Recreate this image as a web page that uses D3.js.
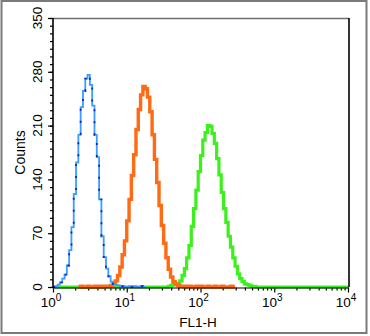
<!DOCTYPE html>
<html lang="en">
    <head>
        <meta charset="utf-8">
        <title>FL1-H histogram overlay</title>
        <script src="https://d3js.org/d3.v7.min.js"></script>
        <style>
            body {
                margin: 0;
                background-color: #ffffff;
            }
            svg {
                display: block;
                font-family: "Liberation Sans", Arial, sans-serif;
            }
        </style>
    </head>
    <body>
        <svg id="chart"></svg>
        <script>
            //histogram data: counts per channel, 32 channels per decade
            const binsPerDecade = 32;
            const totalBins = 128;

            const blueStart = 0;
            const blueCounts = [0, 1, 3, 6, 11, 16, 28, 48, 78, 121, 162, 198, 234, 255, 271, 276, 263, 236, 198, 169,
                114, 66, 39, 24, 14, 7, 4, 3, 2, 1, 1, 0, 0, 1, 0, 1, 0, 0, 1, 0];

            const orangeStart = 11;
            const orangeCounts = [0, 1, 0, 0, 1, 0, 0, 1, 0, 1, 0, 1, 1,
                1, 2, 4, 8, 15, 26, 42, 60, 86, 114, 145, 172, 205, 231, 250, 261, 258, 247, 228, 198, 166, 136,
                106, 80, 57, 38, 23, 13, 7, 4, 2, 1,
                1, 0, 1, 1, 0, 0, 1, 0, 1, 0, 0, 1, 0, 0, 1, 0, 0, 1, 0, 0, 0, 1, 0];

            const greenStart = 50;
            const greenCounts = [1, 2, 3, 3, 4, 8, 15, 24, 38, 54, 79, 102, 126, 150, 171, 191, 201, 210, 209, 200,
                187, 167, 146, 123, 102, 84, 66, 52, 38, 27, 17, 11, 7, 4, 3, 2, 1, 1];

            //axis ticks
            const xDecades = [1, 10, 100, 1000, 10000];
            const xExponents = ["0", "1", "2", "3", "4"];
            const yTicks = [0, 70, 140, 210, 280, 350];

            //dimensions
            const width = 370;
            const height = 336;
            const plot = { left: 53, right: 349, top: 18, bottom: 287 };

            const svg = d3.select("#chart")
                .attr("width", width)
                .attr("height", height);

            //outer frame
            svg.append("rect")
                .attr("x", 1.5)
                .attr("y", 1)
                .attr("width", 365)
                .attr("height", 332)
                .attr("fill", "#ffffff")
                .attr("stroke", "#7a7a7a")
                .attr("stroke-width", 2);

            //scales
            const xScale = d3.scaleLog()
                .domain([1, 10000])
                .range([plot.left, plot.right - 1]);

            const yScale = d3.scaleLinear()
                .domain([0, 350])
                .range([plot.bottom, plot.top]);

            //plot frame: top gray, right black
            svg.append("line")
                .attr("x1", plot.left).attr("x2", plot.right)
                .attr("y1", plot.top + 0.5).attr("y2", plot.top + 0.5)
                .attr("stroke", "#6e6e6e")
                .attr("stroke-width", 1.5);

            svg.append("line")
                .attr("x1", plot.right).attr("x2", plot.right)
                .attr("y1", plot.top).attr("y2", plot.bottom)
                .attr("stroke", "#000")
                .attr("stroke-width", 1.6);

            //x axis ticks
            const xMinor = [];
            for (let d = 1; d < 10000; d *= 10) {
                for (let m = 2; m < 10; m++) xMinor.push(d * m);
            }

            const xAxisG = svg.append("g")
                .attr("transform", `translate(0, ${plot.bottom + 0.5})`);

            xAxisG.call(d3.axisBottom(xScale).tickValues(xMinor).tickSize(3).tickFormat(""))
                .call(g => g.select(".domain").remove());
            xAxisG.append("g")
                .call(d3.axisBottom(xScale).tickValues(xDecades).tickSize(5).tickFormat(""))
                .call(g => g.select(".domain").remove());
            xAxisG.selectAll("line").attr("stroke", "#000").attr("stroke-width", 1.2);

            //x tick labels as 10^n
            const xLabels = svg.append("g")
                .selectAll("text")
                .data(xDecades)
                .enter()
                .append("text")
                .attr("x", d => xScale(d) - 2)
                .attr("y", 307)
                .attr("text-anchor", "middle")
                .attr("font-size", 13.5)
                .attr("fill", "#000");
            xLabels.append("tspan").text("10");
            xLabels.append("tspan")
                .attr("dy", -6)
                .attr("font-size", 10)
                .text((d, i) => xExponents[i]);

            //y axis ticks
            const yAxisG = svg.append("g")
                .attr("transform", `translate(${plot.left}, 0)`);

            yAxisG.call(d3.axisLeft(yScale).tickValues(d3.range(0, 351, 10)).tickSize(3).tickFormat(""))
                .call(g => g.select(".domain").remove());
            yAxisG.append("g")
                .call(d3.axisLeft(yScale).tickValues(yTicks).tickSize(5).tickFormat(""))
                .call(g => g.select(".domain").remove());
            yAxisG.selectAll("line").attr("stroke", "#000").attr("stroke-width", 1.2);

            //y tick labels, rotated
            svg.append("g")
                .selectAll("text")
                .data(yTicks)
                .enter()
                .append("text")
                .attr("transform", d => `translate(42, ${yScale(d)}) rotate(-90)`)
                .attr("text-anchor", "middle")
                .attr("font-size", 13.5)
                .attr("fill", "#000")
                .text(d => d);

            //axis titles
            svg.append("text")
                .attr("transform", `translate(25, ${(plot.top + plot.bottom) / 2}) rotate(-90)`)
                .attr("text-anchor", "middle")
                .attr("font-size", 14)
                .attr("fill", "#000")
                .text("Counts");

            svg.append("text")
                .attr("x", 198)
                .attr("y", 327)
                .attr("text-anchor", "middle")
                .attr("font-size", 13.5)
                .attr("fill", "#000")
                .text("FL1-H");

            //histogram helper: channel counts -> stepped points
            function histPoints(start, counts, from, to) {
                const pts = [];
                for (let ch = from; ch < to; ch++) {
                    const i = ch - start;
                    const c = (i >= 0 && i < counts.length) ? counts[i] : 0;
                    pts.push([Math.pow(10, ch / binsPerDecade), c]);
                }
                pts.push([Math.pow(10, to / binsPerDecade), pts[pts.length - 1][1]]);
                return pts;
            }

            const line = d3.line()
                .x(d => xScale(d[0]))
                .y(d => yScale(d[1]))
                .curve(d3.curveStepAfter);

            const curves = svg.append("g");

            //green drawn first, spans the whole range
            curves.append("path")
                .attr("d", line(histPoints(greenStart, greenCounts, 0, totalBins)))
                .attr("fill", "none")
                .attr("stroke", "#3cf01c")
                .attr("stroke-width", 3.2);

            curves.append("path")
                .attr("d", line(histPoints(orangeStart, orangeCounts, orangeStart, orangeStart + orangeCounts.length)))
                .attr("fill", "none")
                .attr("stroke", "#ff6a14")
                .attr("stroke-width", 3.4);

            const bluePts = histPoints(blueStart, blueCounts, blueStart, blueStart + blueCounts.length);
            curves.append("path")
                .attr("d", line(bluePts))
                .attr("fill", "none")
                .attr("stroke", "#3d9dff")
                .attr("stroke-width", 1.8);
            curves.append("path")
                .attr("d", line(bluePts))
                .attr("fill", "none")
                .attr("stroke", "#1024b4")
                .attr("stroke-width", 1.8)
                .attr("stroke-dasharray", "2,10");

            //left and bottom axis lines on top
            svg.append("line")
                .attr("x1", plot.left).attr("x2", plot.left)
                .attr("y1", plot.top).attr("y2", plot.bottom + 1)
                .attr("stroke", "#000")
                .attr("stroke-width", 1.6);
            svg.append("line")
                .attr("x1", plot.left).attr("x2", plot.right)
                .attr("y1", plot.bottom + 1).attr("y2", plot.bottom + 1)
                .attr("stroke", "#000")
                .attr("stroke-width", 1.2);
        </script>
    </body>
</html>
